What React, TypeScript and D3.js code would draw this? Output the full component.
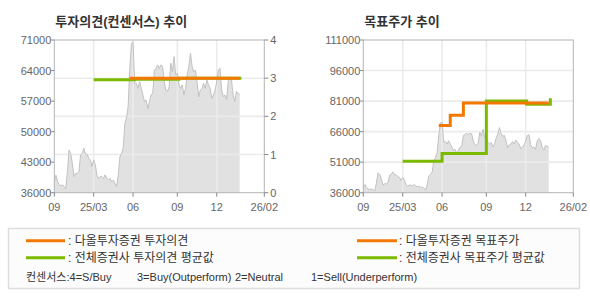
import React from "react";
import * as d3 from "d3";

// Daily close (approx), one sample per slot
const prices = [
  38500, 40000, 38500, 37800, 37600, 37800, 37400, 36900, 40800, 45800,
  45000, 42700, 39700, 40400, 40400, 40800, 44600, 45000, 46200, 44800,
  44800, 43900, 43500, 42000, 43500, 42400, 40000, 39300, 39700, 39700,
  39300, 40100, 39300, 38900, 39300, 38500, 38900, 38100, 37400, 40100,
  44300, 45000, 46200, 51900, 53100, 55700, 64500, 70200, 70600, 61000,
  61100, 59900, 61500, 59900, 58400, 56900, 57200, 55200, 56900, 58400,
  58800, 64100, 64500, 65300, 64500, 65300, 64900, 61400, 59500, 59200,
  60300, 65700, 63700, 67200, 63000, 63400, 60700, 59900, 60700, 58400,
  59900, 63000, 64900, 68000, 64900, 63700, 64100, 61400, 58000, 59500,
  59900, 61100, 59900, 61800, 60700, 59900, 57600, 58400, 59500, 61400,
  64100, 64500, 59500, 58000, 58400, 57300, 61400, 62600, 61800, 58400,
  56900, 59200, 58800, 58400,
];

const xTickLabels = ["09", "25/03", "06", "09", "12", "26/02"];
const xTickIdx = [0, 24, 48, 75, 99, 128];
const opinionTicks = [0, 1, 2, 3, 4];
const leftPriceTicks = [36000, 43000, 50000, 57000, 64000, 71000];
const rightPriceTicks = [36000, 51000, 66000, 81000, 96000, 111000];

const daolOpinionIdx = [46, 113];
const daolOpinionVal = [3, 3];
const avgOpinionIdx = [24, 49, 76, 114];
const avgOpinionVal = [2.96, 2.975, 3, 3];

const daolTargetIdx = [46, 53, 61, 113];
const daolTargetVal = [69000, 74000, 80000, 80000];
const avgTargetIdx = [24, 48, 75, 99.6, 114];
const avgTargetVal = [51500, 55300, 81000, 79500, 82400];

const ORANGE = "#f27800";
const GREEN = "#7cba00";
const FRAME = "#b4b4b4";
const GRID = "#ebebeb";
const TXT = "#666";
const FONT = "'Liberation Sans', 'Noto Sans CJK KR', sans-serif";

const TOP = 40;
const BOTTOM = 192.7;
const PLOT_W = 210;

type Pt = { i: number; v: number };
const zip = (a: number[], b: number[]): Pt[] => a.map((i, k) => ({ i, v: b[k] }));

function Panel({
  left,
  title,
  priceTicks,
  rightTicks,
  lines,
  lineScaleIsRight,
}: {
  left: number;
  title: string;
  priceTicks: number[];
  rightTicks?: number[];
  lines: { pts: Pt[]; color: string }[];
  lineScaleIsRight: boolean;
}) {
  const x = d3.scaleLinear().domain([0, 128]).range([left, left + PLOT_W]);
  const yP = d3
    .scaleLinear()
    .domain([priceTicks[0], priceTicks[priceTicks.length - 1]])
    .range([BOTTOM, TOP]);
  const yR = rightTicks
    ? d3.scaleLinear().domain([rightTicks[0], rightTicks[rightTicks.length - 1]]).range([BOTTOM, TOP])
    : null;
  const yLine = lineScaleIsRight && yR ? yR : yP;

  const area = d3
    .area<number>()
    .x((_, k) => x(k))
    .y0(BOTTOM)
    .y1((d) => yP(d));
  const priceLine = d3
    .line<number>()
    .x((_, k) => x(k))
    .y((d) => yP(d));
  const step = d3
    .line<Pt>()
    .x((d) => x(d.i))
    .y((d) => yLine(d.v))
    .curve(d3.curveStepAfter);

  const hGrid = yR
    ? rightTicks!.slice(1, -1).map((t) => yR(t))
    : priceTicks.slice(1, -1).map((t) => yP(t));

  return (
    <g>
      <text x={left + 1} y={26} fontSize={13} fontWeight="bold" fill="#333" fontFamily={FONT}>
        {title}
      </text>
      <path d={area(prices) || ""} fill="#e1e1e1" />
      {hGrid.map((y, k) => (
        <line key={"h" + k} x1={left} x2={left + PLOT_W} y1={y} y2={y} stroke={GRID} strokeWidth={1.6} />
      ))}
      {xTickIdx.slice(1, -1).map((t, k) => (
        <line key={"v" + k} x1={x(t)} x2={x(t)} y1={TOP} y2={BOTTOM} stroke={GRID} strokeWidth={1.6} />
      ))}
      <path d={priceLine(prices) || ""} fill="none" stroke="#c2c2c2" strokeWidth={1} />
      <rect x={left} y={TOP} width={PLOT_W} height={BOTTOM - TOP} fill="none" stroke={FRAME} strokeWidth={1} />
      {lines.map((l, k) => (
        <path key={"l" + k} d={step(l.pts) || ""} fill="none" stroke={l.color} strokeWidth={3} />
      ))}
      {priceTicks.map((t, k) => (
        <g key={"yl" + k}>
          <line x1={left - 3} x2={left} y1={yP(t)} y2={yP(t)} stroke="#888" />
          <text
            x={left - 3}
            y={yP(t) + 4}
            textAnchor="end"
            fontSize={11}
            fill={TXT}
            fontFamily={FONT}
          >
            {t}
          </text>
        </g>
      ))}
      {yR &&
        rightTicks!.map((t, k) => (
          <g key={"yr" + k}>
            <line x1={left + PLOT_W} x2={left + PLOT_W + 4} y1={yR(t)} y2={yR(t)} stroke="#888" />
            <text x={left + PLOT_W + 6} y={yR(t) + 4} fontSize={11} fill={TXT} fontFamily={FONT}>
              {t}
            </text>
          </g>
        ))}
      {xTickIdx.map((t, k) => (
        <g key={"x" + k}>
          <line x1={x(t)} x2={x(t)} y1={BOTTOM} y2={BOTTOM + 4} stroke="#888" />
          <text x={x(t)} y={211} textAnchor="middle" fontSize={11} fill={TXT} fontFamily={FONT}>
            {xTickLabels[k]}
          </text>
        </g>
      ))}
    </g>
  );
}

export default function App() {
  return (
    <svg
      width={590}
      height={300}
      style={{ position: "absolute", left: 0, top: 0, background: "#fff" }}
    >
      <Panel
        left={54.3}
        title="투자의견(컨센서스) 추이"
        priceTicks={leftPriceTicks}
        rightTicks={opinionTicks}
        lineScaleIsRight={true}
        lines={[
          { pts: zip(avgOpinionIdx, avgOpinionVal), color: GREEN },
          { pts: zip(daolOpinionIdx, daolOpinionVal), color: ORANGE },
        ]}
      />
      <Panel
        left={363.3}
        title="목표주가 추이"
        priceTicks={rightPriceTicks}
        lineScaleIsRight={false}
        lines={[
          { pts: zip(avgTargetIdx, avgTargetVal), color: GREEN },
          { pts: zip(daolTargetIdx, daolTargetVal), color: ORANGE },
        ]}
      />
      <rect x={8.5} y={228.5} width={571} height={60} fill="#fcfcfc" stroke="#dedede" strokeWidth={1.5} />
      <g fontFamily={FONT} fontSize={12} fill="#333">
        <line x1={26} x2={65} y1={240.7} y2={240.7} stroke={ORANGE} strokeWidth={3} />
        <text x={68} y={245}>: 다올투자증권 투자의견</text>
        <line x1={26} x2={65} y1={257.7} y2={257.7} stroke={GREEN} strokeWidth={3} />
        <text x={68} y={262}>: 전체증권사 투자의견 평균값</text>
        <line x1={357} x2={397} y1={240.7} y2={240.7} stroke={ORANGE} strokeWidth={3} />
        <text x={399} y={245}>: 다올투자증권 목표주가</text>
        <line x1={357} x2={397} y1={257.7} y2={257.7} stroke={GREEN} strokeWidth={3} />
        <text x={399} y={262}>: 전체증권사 목표주가 평균값</text>
        <g fontSize={11}>
          <text x={26} y={281}>컨센서스:4=S/Buy</text>
          <text x={137} y={281}>3=Buy(Outperform)</text>
          <text x={235} y={281}>2=Neutral</text>
          <text x={311} y={281}>1=Sell(Underperform)</text>
        </g>
      </g>
    </svg>
  );
}
